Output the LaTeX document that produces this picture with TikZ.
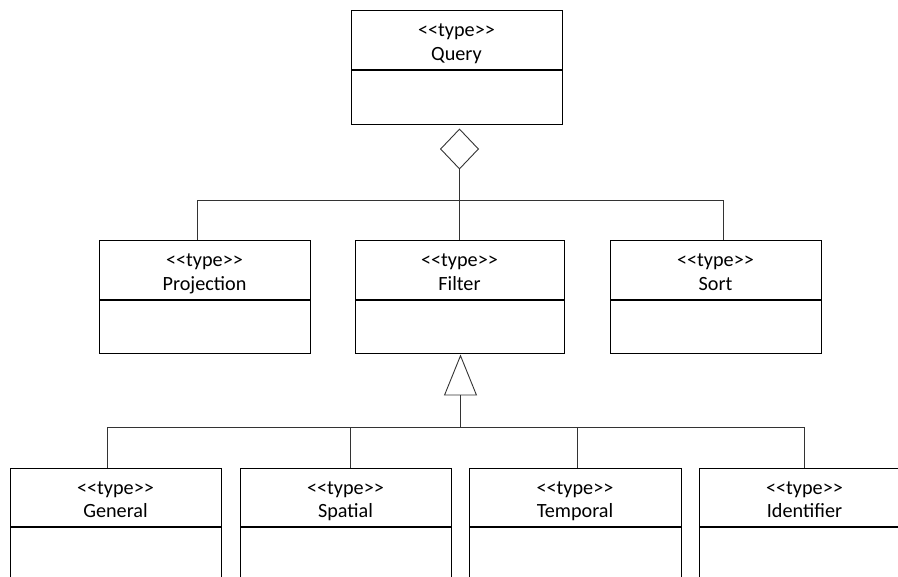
\documentclass[tikz,border=0pt]{standalone}
\usepackage{fontspec}
\setmainfont{Carlito}
\usetikzlibrary{positioning,arrows.meta}
\newcommand{\cls}[1]{\rule{0pt}{23.5pt}{<}{<}type{>}{>}\\\strut #1}

\begin{document}
\begin{tikzpicture}[x=1pt,y=-1pt]
        \tikzset{hdr/.style={rectangle, draw=black, line width=1pt, align=center,
            minimum width=211pt, minimum height=59pt, inner sep=0pt,
            font=\fontsize{20.2}{23.5}\selectfont},
          body/.style={rectangle, draw=black, line width=1pt,
            minimum width=211pt, minimum height=54pt, inner sep=0pt},
          link/.style={line width=0.9pt, draw=black!80}}

        \useasboundingbox (0,0) rectangle (898,577);
        \clip (0,0) rectangle (898,577);

        % top
        \node(query) [hdr] at (456.5,40.5) {\cls{Query}};
        \node(queryb) [body, below=0pt of query] {};

        % middle row
        \node(proj) [hdr] at (204.5,270.5) {\cls{Projection}};
        \node(projb) [body, below=0pt of proj, minimum height=53pt] {};
        \node(filter) [hdr, minimum width=209pt] at (459.5,270.5) {\cls{Filter}};
        \node(filterb) [body, below=0pt of filter, minimum width=209pt, minimum height=53pt] {};
        \node(sort) [hdr] at (715.5,270.5) {\cls{Sort}};
        \node(sortb) [body, below=0pt of sort, minimum height=53pt] {};

        % bottom row
        \node(general) [hdr, minimum height=58pt] at (115.5,498) {\cls{General}};
        \node(generalb) [body, below=0pt of general, minimum height=80pt] {};
        \node(spatial) [hdr, minimum height=58pt] at (345.5,498) {\cls{Spatial}};
        \node(spatialb) [body, below=0pt of spatial, minimum height=80pt] {};
        \node(temporal) [hdr, minimum height=58pt, minimum width=212pt] at (575,498) {\cls{Temporal}};
        \node(temporalb) [body, below=0pt of temporal, minimum height=80pt, minimum width=212pt] {};
        \node(ident) [hdr, minimum height=58pt] at (804.5,498) {\cls{Identifier}};
        \node(identb) [body, below=0pt of ident, minimum height=80pt] {};

        \coordinate (agg) at (459.5,200.5);
        \coordinate (gen) at (460.5,427.5);

        \draw[link] ([xshift=-7.5pt]proj.north) |- (agg) -| ([xshift=7.5pt]sort.north);
        \draw[link] (agg) -- (filter.north);
        \draw[link, -{Diamond[open, length=41pt, width=39pt, line width=0.9pt]}, shorten >=3pt]
            (agg) -- (agg |- queryb.south);

        \draw[link] ([xshift=-8.5pt]general.north) |- (gen) -| ([xshift=-0.5pt]ident.north);
        \draw[link] ([xshift=4.5pt]spatial.north) -- ([xshift=4.5pt]spatial.north |- gen);
        \draw[link] ([xshift=2pt]temporal.north) -- ([xshift=2pt]temporal.north |- gen);
        \draw[link, -{Triangle[open, length=41pt, width=33pt, line width=0.9pt]}]
            (gen) -- (gen |- filterb.south);
    \end{tikzpicture}
\end{document}
